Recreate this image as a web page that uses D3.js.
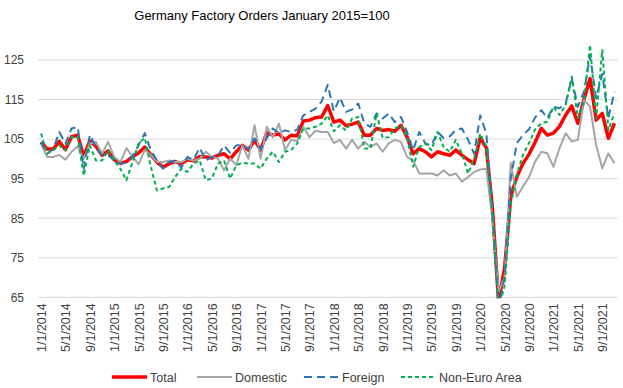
<!DOCTYPE html>
<html>
<head>
<meta charset="utf-8">
<script src="https://cdn.jsdelivr.net/npm/d3@7"></script>
<style>
  body { margin: 0; background: #fff; }
  svg { font-family: "Liberation Sans", Arial, sans-serif; }
</style>
</head>
<body>
<svg width="623" height="388"></svg>
<script>
// monthly index values, Jan 2014 .. Nov 2021
const total = [
  104.2, 102.5, 102.5, 104.4, 102.3, 105.6, 106.0, 100.6, 104.5, 103.2, 100.9, 102.0,
  99.8, 98.9, 99.3, 100.6, 101.5, 103.0, 101.0, 99.2, 97.9, 98.8, 99.3, 98.8,
  99.8, 99.5, 100.6, 100.5, 100.2, 100.9, 101.3, 100.0, 101.8, 103.4, 102.2, 104.8,
  102.2, 106.6, 106.0, 106.3, 104.8, 106.0, 105.8, 109.6, 109.8, 110.4, 110.6, 113.5,
  109.3, 109.8, 108.4, 108.8, 109.3, 106.0, 106.0, 107.7, 107.2, 107.4, 107.0, 108.5,
  105.5, 101.3, 102.6, 101.8, 100.5, 101.8, 101.3, 100.9, 102.2, 100.9, 99.8, 98.8,
  105.3, 102.8, 87.5, 64.0, 72.5, 90.5, 95.5, 98.8, 101.2, 104.2, 107.7, 106.0,
  106.5, 108.2, 111.1, 113.4, 109.0, 115.0, 120.3, 109.8, 111.5, 105.2, 109.0
];
const domestic = [
  103.8, 100.5, 100.5, 101.0, 99.8, 101.8, 103.2, 100.0, 103.9, 104.3, 101.3, 104.3,
  100.5, 99.2, 102.7, 100.6, 98.6, 102.3, 101.0, 99.2, 99.2, 99.6, 99.2, 99.2,
  100.0, 99.6, 100.0, 101.8, 100.5, 100.1, 97.1, 100.1, 98.4, 103.4, 100.0, 108.5,
  100.0, 108.1, 105.5, 108.9, 102.2, 104.8, 104.5, 108.1, 105.5, 107.1, 106.8, 106.8,
  104.0, 104.8, 102.6, 104.8, 102.6, 104.3, 103.0, 103.9, 101.8, 103.9, 104.8, 104.3,
  100.5, 99.6, 96.3, 96.3, 96.3, 95.8, 97.1, 95.8, 96.3, 94.2, 95.4, 96.7,
  97.3, 97.5, 84.5, 66.5, 70.0, 99.0, 90.4, 93.0, 95.4, 99.3, 101.8, 101.4,
  98.0, 102.7, 106.5, 104.4, 104.8, 114.9, 113.2, 103.5, 97.6, 101.4, 98.9
];
const foreign = [
  104.3, 101.3, 102.5, 106.8, 103.8, 107.7, 108.1, 97.5, 106.1, 103.0, 100.9, 100.9,
  99.6, 98.8, 99.0, 100.6, 103.5, 106.5, 102.2, 99.6, 97.5, 99.2, 99.6, 97.8,
  100.5, 99.8, 102.8, 99.6, 100.5, 100.8, 103.4, 101.5, 103.4, 103.6, 102.5, 105.2,
  102.5, 105.2, 107.7, 106.5, 107.2, 106.8, 107.4, 111.0, 111.9, 112.7, 114.5, 118.7,
  112.0, 115.5, 111.9, 112.5, 114.0, 109.0, 108.1, 111.5, 110.2, 111.5, 109.3, 110.6,
  106.8, 102.2, 106.8, 103.9, 103.4, 106.8, 105.3, 105.7, 107.3, 107.7, 104.8, 101.3,
  111.0, 106.4, 87.0, 62.5, 70.0, 95.0, 104.0, 106.0, 107.5, 110.5, 112.3, 110.3,
  113.2, 112.8, 114.0, 120.4, 113.2, 117.0, 126.0, 115.3, 121.5, 110.3, 117.0
];
const nonEuro = [
  106.4, 101.3, 102.2, 103.4, 102.2, 105.5, 105.5, 95.8, 103.4, 99.6, 99.6, 102.2,
  99.6, 97.5, 94.6, 99.2, 103.9, 105.3, 98.0, 92.0, 92.5, 92.9, 95.5, 97.5,
  96.7, 98.8, 99.6, 94.6, 95.0, 98.8, 99.6, 95.0, 98.4, 99.0, 98.8, 98.8,
  97.5, 100.1, 101.8, 99.2, 101.8, 102.2, 103.9, 107.7, 107.7, 108.1, 108.9, 111.0,
  107.0, 108.5, 107.2, 110.2, 110.6, 102.6, 102.6, 111.5, 105.3, 105.5, 107.7, 108.5,
  105.5, 98.0, 103.0, 103.9, 102.2, 106.8, 103.0, 101.8, 104.8, 101.3, 96.3, 100.1,
  106.4, 103.0, 85.3, 62.0, 68.0, 88.5, 96.0, 101.0, 104.0, 107.5, 109.0, 109.4,
  113.2, 111.1, 113.6, 120.8, 110.3, 114.5, 128.8, 110.3, 127.5, 107.3, 111.5
];
const yTicks = [65, 75, 85, 95, 105, 115, 125];

// month labels m/1/yyyy
const months = total.map((d, i) => `${(i % 12) + 1}/1/${2014 + Math.floor(i / 12)}`);

const seriesList = [
  { name: "Total", values: total, color: "#FF0000", width: 3.5, dash: null },
  { name: "Domestic", values: domestic, color: "#A5A5A5", width: 2, dash: null },
  { name: "Foreign", values: foreign, color: "#2E75B6", width: 2, dash: "8,5" },
  { name: "Non-Euro Area", values: nonEuro, color: "#00B050", width: 2, dash: "4,3" }
];

const svg = d3.select("svg");
const plotLeft = 38, plotRight = 617.5, plotTop = 60, plotBottom = 297.3;

const x = d3.scalePoint().domain(months).range([plotLeft, plotRight]).padding(0.5);
const y = d3.scaleLinear().domain([65, 125]).range([plotBottom, plotTop]);

//title
svg.append("text").attr("x", 262).attr("y", 20).attr("text-anchor", "middle")
  .attr("font-size", 13).attr("fill", "#000").text("Germany Factory Orders January 2015=100");

//gridlines
svg.append("g").selectAll("line").data(yTicks).enter().append("line")
  .attr("x1", plotLeft).attr("x2", plotRight).attr("y1", d => y(d)).attr("y2", d => y(d))
  .attr("stroke", "#D9D9D9").attr("stroke-width", 1);

//y axis labels
const yAxis = d3.axisLeft(y).tickValues(yTicks).tickSize(0).tickPadding(0);
svg.append("g").attr("transform", "translate(24,0)").call(yAxis)
  .call(g => g.select(".domain").remove())
  .call(g => g.selectAll("text").attr("font-size", 12).attr("fill", "#404040").attr("font-family", "Liberation Sans, Arial, sans-serif"));

//x axis labels every 4 months
const xAxis = d3.axisBottom(x).tickValues(months.filter((d, i) => i % 4 === 0)).tickSize(0);
svg.append("g").attr("transform", `translate(0,${plotBottom})`).call(xAxis)
  .call(g => g.select(".domain").remove())
  .call(g => g.selectAll("text").attr("font-size", 12.5).attr("fill", "#404040")
    .attr("font-family", "Liberation Sans, Arial, sans-serif")
    .attr("transform", "rotate(-90)").attr("text-anchor", "end")
    .attr("x", -6).attr("y", 0).attr("dy", "0.35em"));

//clip the dip at the axis floor
svg.append("clipPath").attr("id", "plot").append("rect")
  .attr("x", 0).attr("y", 0).attr("width", 623).attr("height", plotBottom + 1);

const line = d3.line().x((d, i) => x(months[i])).y(d => y(d));
svg.append("g").attr("clip-path", "url(#plot)").selectAll("path").data(seriesList).enter().append("path")
  .attr("d", d => line(d.values)).attr("fill", "none")
  .attr("stroke", d => d.color).attr("stroke-width", d => d.width)
  .attr("stroke-dasharray", d => d.dash).attr("stroke-linejoin", "round");

//legend
const legendPos = [112, 197, 304, 401];
const legend = svg.append("g");
seriesList.forEach((s, i) => {
  legend.append("line").attr("x1", legendPos[i]).attr("x2", legendPos[i] + 35)
    .attr("y1", 377).attr("y2", 377).attr("stroke", s.color).attr("stroke-width", s.width)
    .attr("stroke-dasharray", s.dash);
  legend.append("text").attr("x", legendPos[i] + 38).attr("y", 381.5)
    .attr("font-size", 12.5).attr("fill", "#404040").text(s.name);
});
</script>
</body>
</html>
